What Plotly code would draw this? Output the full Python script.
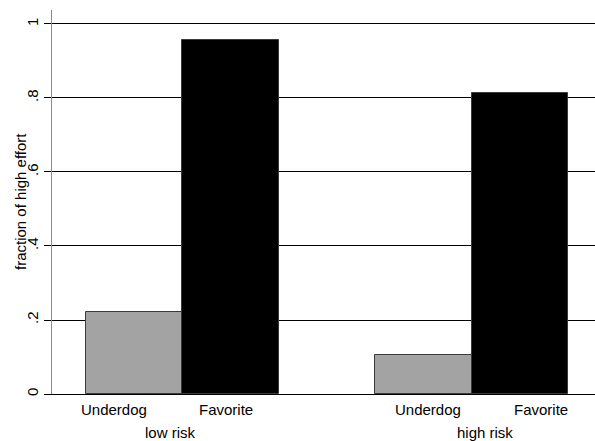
import plotly.graph_objects as go

# Data
groups = ["low risk", "high risk"]
bar_labels = ["Underdog", "Favorite"]
underdog = [0.2205, 0.1054]
favorite = [0.9557, 0.8135]
y_ticks = [0, 0.2, 0.4, 0.6, 0.8, 1]
y_tick_text = ["0", ".2", ".4", ".6", ".8", "1"]
y_title = "fraction of high effort"

FONT = "Liberation Sans, Arial, Helvetica, sans-serif"

# Bar layout: each group has two unit-width bars, groups separated by one bar width
group_centers = [0.5, 3.5]
x_under = [c - 0.5 for c in group_centers]
x_fav = [c + 0.5 for c in group_centers]

fig = go.Figure()
fig.add_trace(go.Bar(
    x=x_under, y=underdog, width=1, name="Underdog",
    marker=dict(color="#a3a3a3", line=dict(color="#3a3a3a", width=1)),
    showlegend=False,
))
fig.add_trace(go.Bar(
    x=x_fav, y=favorite, width=1, name="Favorite",
    marker=dict(color="#000000", line=dict(color="#3a3a3a", width=1)),
    showlegend=False,
))

# Label offsets from each group centre (bar labels, then group label)
bar_label_offsets = [[-0.707, 0.451], [-0.452, 0.713]]
group_label_offsets = [-0.129, 0.132]

annotations = []
for gi, gc in enumerate(group_centers):
    for li, lab in enumerate(bar_labels):
        annotations.append(dict(
            x=gc + bar_label_offsets[gi][li], y=0, xref="x", yref="y",
            text=lab, showarrow=False,
            xanchor="center", yanchor="middle", yshift=-15,
            font=dict(family=FONT, size=15, color="#000"),
        ))
    annotations.append(dict(
        x=gc + group_label_offsets[gi], y=0, xref="x", yref="y",
        text=groups[gi], showarrow=False,
        xanchor="center", yanchor="middle", yshift=-38,
        font=dict(family=FONT, size=15, color="#000"),
    ))

# Rotated y-axis title placed left of the tick labels
annotations.append(dict(
    x=0, y=0.5, xref="paper", yref="paper", xshift=-32,
    text=y_title, textangle=-90, showarrow=False,
    xanchor="center", yanchor="middle",
    font=dict(family=FONT, size=15, color="#000"),
))

fig.update_layout(
    width=595, height=441,
    margin=dict(l=52, r=0, t=10, b=47),
    paper_bgcolor="white", plot_bgcolor="white",
    bargap=0,
    annotations=annotations,
    font=dict(family=FONT, size=15, color="#000"),
    xaxis=dict(
        range=[-0.852, 4.775],
        showgrid=False, zeroline=False,
        showline=True, linecolor="#000", linewidth=1,
        showticklabels=False, ticks="",
    ),
    yaxis=dict(
        range=[0, 1.0378],
        tickvals=y_ticks, ticktext=y_tick_text,
        tickangle=-90,
        ticks="outside", ticklen=7, tickcolor="#000", tickwidth=1,
        showgrid=True, gridcolor="#000", gridwidth=1,
        zeroline=False,
        showline=True, linecolor="#8a8a8a", linewidth=1,
        tickfont=dict(family=FONT, size=15, color="#000"),
    ),
)

fig.write_html("out.html")
